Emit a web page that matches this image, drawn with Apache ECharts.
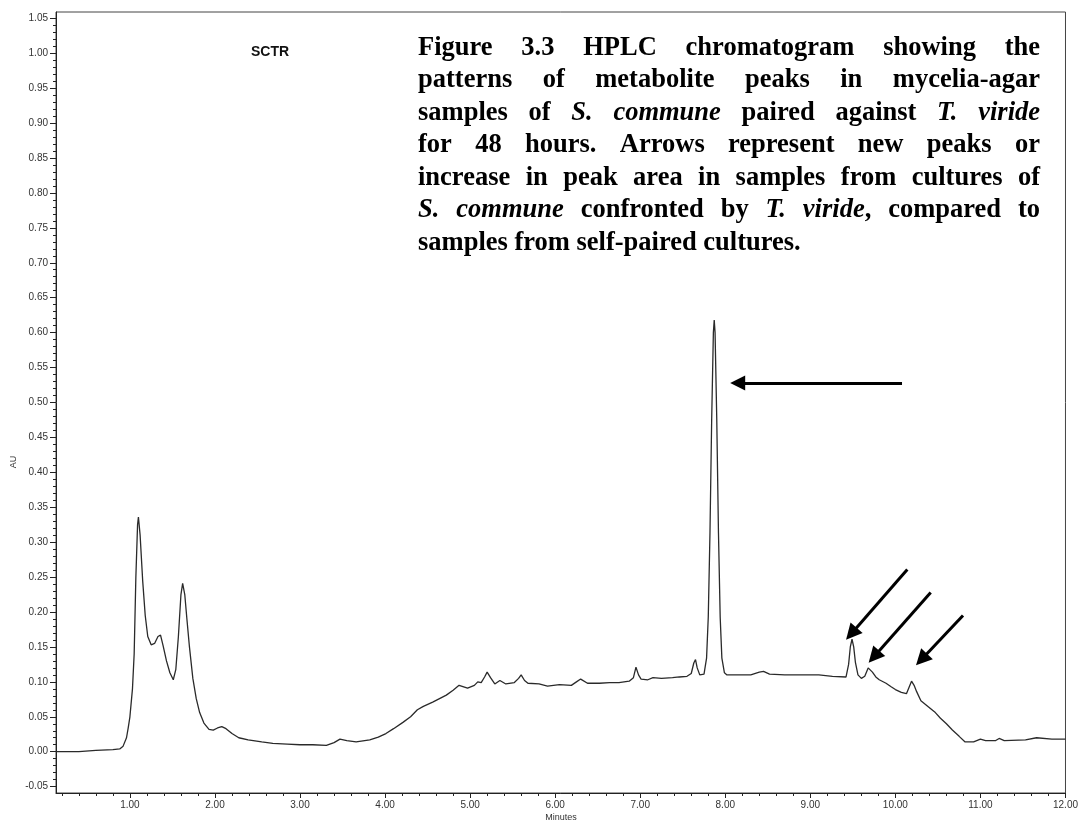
<!DOCTYPE html>
<html>
<head>
<meta charset="utf-8">
<script src="https://cdn.jsdelivr.net/npm/echarts@6/dist/echarts.min.js"></script>
<style>
html,body{margin:0;padding:0;background:#fff;}
#chart{width:1081px;height:826px;}
</style>
</head>
<body>
<div id="chart"></div>
<script>
// ---- data ----
const times = [0.13,0.40,0.60,0.80,0.88,0.92,0.96,0.98,1.00,1.03,1.05,1.07,1.09,1.10,1.12,1.15,1.18,1.21,1.25,1.29,1.33,1.36,1.39,1.43,1.47,1.51,1.54,1.57,1.60,1.62,1.645,1.67,1.70,1.74,1.78,1.82,1.87,1.93,1.98,2.03,2.08,2.13,2.20,2.28,2.39,2.55,2.68,2.85,3.00,3.15,3.31,3.40,3.47,3.55,3.66,3.82,3.92,4.01,4.10,4.21,4.30,4.38,4.45,4.56,4.72,4.80,4.87,4.97,5.05,5.09,5.13,5.17,5.20,5.24,5.29,5.35,5.42,5.52,5.57,5.60,5.64,5.68,5.81,5.91,6.05,6.19,6.25,6.30,6.38,6.52,6.64,6.75,6.87,6.92,6.95,6.98,7.01,7.09,7.15,7.25,7.38,7.46,7.55,7.60,7.63,7.65,7.67,7.70,7.75,7.78,7.80,7.82,7.84,7.86,7.87,7.88,7.90,7.92,7.94,7.96,7.99,8.02,8.15,8.30,8.40,8.45,8.52,8.70,8.90,9.10,9.26,9.42,9.45,9.47,9.49,9.51,9.53,9.56,9.60,9.64,9.68,9.70,9.73,9.77,9.81,9.89,9.95,10.00,10.07,10.13,10.16,10.19,10.22,10.25,10.30,10.39,10.47,10.53,10.60,10.67,10.75,10.82,10.92,11.00,11.06,11.18,11.22,11.28,11.53,11.66,11.84,12.00];
const absorbance = [0.000,0.000,0.002,0.003,0.004,0.008,0.020,0.034,0.050,0.090,0.140,0.250,0.325,0.336,0.310,0.245,0.195,0.165,0.153,0.155,0.165,0.167,0.152,0.130,0.113,0.103,0.118,0.165,0.225,0.241,0.225,0.190,0.150,0.105,0.076,0.056,0.041,0.032,0.031,0.034,0.036,0.033,0.026,0.020,0.017,0.014,0.012,0.011,0.010,0.010,0.009,0.013,0.018,0.016,0.014,0.017,0.021,0.026,0.033,0.042,0.050,0.060,0.065,0.071,0.081,0.088,0.095,0.091,0.095,0.100,0.099,0.107,0.114,0.106,0.097,0.102,0.097,0.099,0.105,0.110,0.102,0.098,0.097,0.094,0.096,0.095,0.100,0.104,0.098,0.098,0.099,0.099,0.101,0.106,0.121,0.110,0.104,0.103,0.106,0.105,0.106,0.107,0.108,0.112,0.127,0.132,0.120,0.110,0.111,0.134,0.193,0.313,0.475,0.600,0.618,0.600,0.475,0.313,0.193,0.134,0.113,0.110,0.110,0.110,0.114,0.115,0.111,0.110,0.110,0.110,0.108,0.107,0.125,0.150,0.161,0.150,0.128,0.110,0.105,0.108,0.120,0.121,0.114,0.107,0.103,0.098,0.093,0.089,0.085,0.083,0.092,0.101,0.095,0.086,0.073,0.064,0.056,0.048,0.040,0.031,0.022,0.014,0.014,0.018,0.016,0.016,0.019,0.016,0.017,0.020,0.018,0.018];

const xTickLabels = [1,2,3,4,5,6,7,8,9,10,11,12];
const yTickLabels = [-0.05,0.00,0.05,0.10,0.15,0.20,0.25,0.30,0.35,0.40,0.45,0.50,0.55,0.60,0.65,0.70,0.75,0.80,0.85,0.90,0.95,1.00,1.05];

const panelTitle = "SCTR";
const yAxisTitle = "AU";
const xAxisTitle = "Minutes";
const captionLines = [
  "Figure 3.3 HPLC chromatogram showing the",
  "patterns of metabolite peaks in mycelia-agar",
  "samples of _S. commune_ paired against _T. viride_",
  "for 48 hours. Arrows represent new peaks or",
  "increase in peak area in samples from cultures of",
  "_S. commune_ confronted by _T. viride_, compared to",
  "samples from self-paired cultures."
];
// arrows: [tail time, tail AU, head time, head AU]
const arrowCoords = [
  [10.078, 0.528, 8.146, 0.528],
  [10.140, 0.261, 9.482, 0.169],
  [10.415, 0.228, 9.748, 0.136],
  [10.795, 0.195, 10.307, 0.132]
];

// ---- build ----
const seriesData = times.map((t, i) => [t, absorbance[i]]);
const X_MIN = 0.131, X_MAX = 12.0, Y_MIN = -0.0591, Y_MAX = 1.059;

const xMinor = [];
for (let i = 1; i <= 59; i++) xMinor.push(Math.round(i * 20) / 100);
const yMinor = [];
for (let i = -5; i <= 105; i++) yMinor.push(Math.round(i) / 100);

// caption layout (justified)
const CAP_LEFT = 418, CAP_RIGHT = 1040, CAP_TOP = 48, CAP_STEP = 32.5, CAP_SIZE = 26.5;
const CAP_FAMILY = '"Liberation Serif", "Times New Roman", serif';
const mctx = document.createElement('canvas').getContext('2d');
function fontStr(it) { return (it ? 'italic ' : '') + 'bold ' + CAP_SIZE + 'px ' + CAP_FAMILY; }
function measure(txt, it) { mctx.font = fontStr(it); return mctx.measureText(txt).width; }
function parseLine(s) {
  const words = []; let italic = false; let cur = []; let buf = '';
  for (const ch of s) {
    if (ch === '_') { if (buf) { cur.push([buf, italic]); buf = ''; } italic = !italic; }
    else if (ch === ' ') { if (buf) { cur.push([buf, italic]); buf = ''; } if (cur.length) { words.push(cur); cur = []; } }
    else buf += ch;
  }
  if (buf) cur.push([buf, italic]);
  if (cur.length) words.push(cur);
  return words;
}
const graphics = [];
captionLines.forEach((line, li) => {
  const words = parseLine(line);
  const widths = words.map(w => w.reduce((s, seg) => s + measure(seg[0], seg[1]), 0));
  const total = widths.reduce((a, b) => a + b, 0);
  const last = li === captionLines.length - 1;
  const gap = last ? measure(' ', false) : (CAP_RIGHT - CAP_LEFT - total) / (words.length - 1);
  let x = CAP_LEFT;
  const y = CAP_TOP + li * CAP_STEP;
  words.forEach((w, wi) => {
    let sx = x;
    w.forEach(seg => {
      graphics.push({
        type: 'text', x: sx, y: y, silent: true,
        style: { text: seg[0], fontSize: CAP_SIZE, fontFamily: CAP_FAMILY, fontWeight: 'bold',
                 fontStyle: seg[1] ? 'italic' : 'normal', fill: '#000', align: 'left', verticalAlign: 'middle' }
      });
      sx += measure(seg[0], seg[1]);
    });
    x += widths[wi] + gap;
  });
});
graphics.push({ type: 'text', x: 270, y: 52, silent: true,
  style: { text: panelTitle, fontSize: 14, fontWeight: 'bold', fontFamily: 'Arial, "Liberation Sans", sans-serif', fill: '#111', align: 'center', verticalAlign: 'middle' } });
graphics.push({ type: 'text', x: 14, y: 462, rotation: Math.PI / 2, silent: true,
  style: { text: yAxisTitle, fontSize: 9, fontFamily: 'Arial, "Liberation Sans", sans-serif', fill: '#333', align: 'center', verticalAlign: 'middle' } });
graphics.push({ type: 'text', x: 561, y: 818, silent: true,
  style: { text: xAxisTitle, fontSize: 9, fontFamily: 'Arial, "Liberation Sans", sans-serif', fill: '#333', align: 'center', verticalAlign: 'middle' } });

const arrowLines = arrowCoords.map((a, i) => [
  { coord: [a[0], a[1]], symbol: 'none' },
  { coord: [a[2], a[3]], symbol: 'triangle', symbolSize: i === 0 ? 15 : 16 }
]);

const labelFont = { fontSize: 10, fontFamily: 'Arial, "Liberation Sans", sans-serif', color: '#333' };

const option = {
  animation: false,
  backgroundColor: '#fff',
  grid: { left: 56, right: 14, top: 12, bottom: 33, show: true, borderColor: '#444', borderWidth: 1, backgroundColor: 'transparent' },
  xAxis: [
    { type: 'value', min: X_MIN, max: X_MAX, position: 'bottom',
      axisLine: { show: true, onZero: false, lineStyle: { color: '#222', width: 1 } },
      axisTick: { show: true, length: 5, customValues: xTickLabels, lineStyle: { color: '#222' } },
      axisLabel: Object.assign({ show: true, margin: 7, customValues: xTickLabels, formatter: v => v.toFixed(2) }, labelFont),
      splitLine: { show: false } },
    { type: 'value', min: X_MIN, max: X_MAX, position: 'bottom',
      axisLine: { show: false, onZero: false },
      axisTick: { show: true, length: 3, customValues: xMinor, lineStyle: { color: '#222' } },
      axisLabel: { show: false }, splitLine: { show: false } }
  ],
  yAxis: [
    { type: 'value', min: Y_MIN, max: Y_MAX, position: 'left',
      axisLine: { show: true, onZero: false, lineStyle: { color: '#222', width: 1 } },
      axisTick: { show: true, length: 6, customValues: yTickLabels, lineStyle: { color: '#222' } },
      axisLabel: Object.assign({ show: true, margin: 8, customValues: yTickLabels, formatter: v => v.toFixed(2) }, labelFont),
      splitLine: { show: false } },
    { type: 'value', min: Y_MIN, max: Y_MAX, position: 'left',
      axisLine: { show: false, onZero: false },
      axisTick: { show: true, length: 3, customValues: yMinor, lineStyle: { color: '#222' } },
      axisLabel: { show: false }, splitLine: { show: false } }
  ],
  series: [{
    type: 'line', xAxisIndex: 0, yAxisIndex: 0, data: seriesData,
    showSymbol: false, symbol: 'none',
    lineStyle: { color: '#2a2a2a', width: 1.3 },
    emphasis: { disabled: true },
    markLine: {
      silent: true, animation: false,
      symbol: ['none', 'triangle'],
      label: { show: false },
      lineStyle: { color: '#000', width: 3, type: 'solid' },
      emphasis: { disabled: true },
      data: arrowLines
    }
  }],
  graphic: graphics
};

const chart = echarts.init(document.getElementById('chart'), null, { renderer: 'canvas' });
chart.setOption(option);
</script>
</body>
</html>
